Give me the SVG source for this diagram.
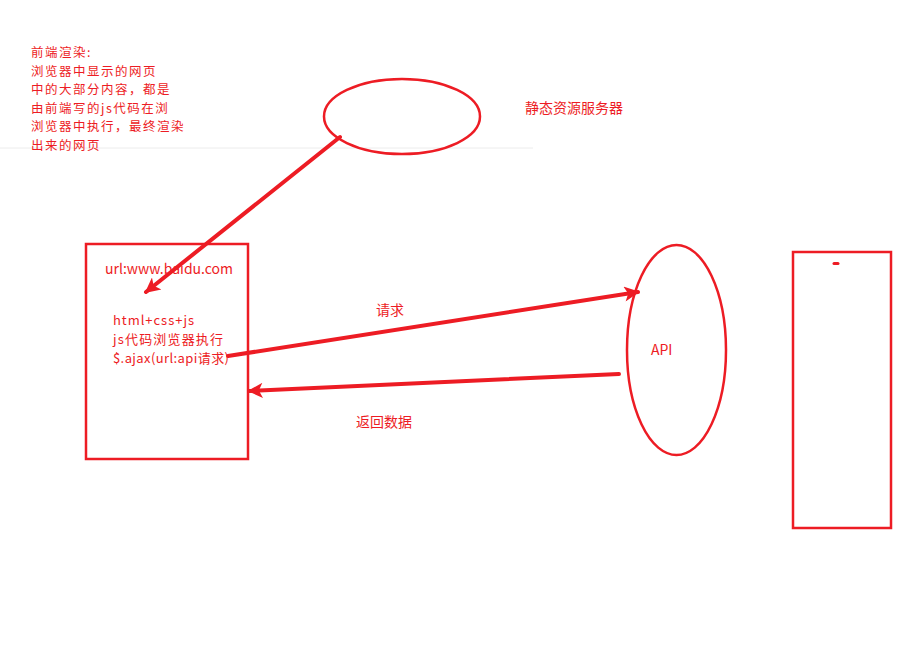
<svg xmlns="http://www.w3.org/2000/svg" width="903" height="659" viewBox="0 0 903 659">
<defs>
<style>
.t{font-family:"Microsoft YaHei","Noto Sans CJK SC","Noto Sans",sans-serif;font-size:14px;fill:#ED1C24}
.n{font-size:12.5px;letter-spacing:1.5px}
.b{font-size:13px}
.s{fill:none;stroke:#ED1C24;stroke-width:2.5}
.c{fill:none;stroke:#ED1C24;stroke-width:4;stroke-linecap:round}
</style>
<marker id="ah" viewBox="0 0 10 10" refX="9" refY="5" markerWidth="4.5" markerHeight="3.8" orient="auto" markerUnits="strokeWidth">
<path d="M0,0 L10,5 L0,10 L2.5,5 Z" fill="#ED1C24"/>
</marker>
</defs>
<rect width="903" height="659" fill="#fff"/>
<line x1="0" y1="148" x2="533" y2="148" stroke="#ececec" stroke-width="1"/>
<g id="note">
<text class="t n" x="31" y="57">前端渲染:</text>
<text class="t n" x="31" y="75.5">浏览器中显示的网页</text>
<text class="t n" x="31" y="94">中的大部分内容，都是</text>
<text class="t n" x="31" y="112.5">由前端写的js代码在浏</text>
<text class="t n" x="31" y="131">浏览器中执行，最终渲染</text>
<text class="t n" x="31" y="149.5">出来的网页</text>
</g>
<g id="static-server">
<ellipse class="s" cx="402" cy="116.5" rx="78" ry="37.5"/>
<text class="t" x="525" y="113">静态资源服务器</text>
</g>
<g id="browser">
<rect class="s" x="86" y="244" width="162" height="215"/>
<text class="t" x="105" y="274">url:www.baidu.com</text>
<text class="t b" x="113" y="324.5" textLength="81" lengthAdjust="spacing">html+css+js</text>
<text class="t b" x="113" y="343.5" textLength="110" lengthAdjust="spacing">js代码浏览器执行</text>
<text class="t b" x="113" y="362.5" textLength="116" lengthAdjust="spacing">$.ajax(url:api请求)</text>
</g>
<g id="api">
<ellipse class="s" cx="676.5" cy="350" rx="49.5" ry="105"/>
<text class="t" x="651" y="355">API</text>
</g>
<g id="device">
<rect class="s" x="793" y="252" width="98" height="276"/>
<line x1="834" y1="263.5" x2="838" y2="263.5" stroke="#ED1C24" stroke-width="3" stroke-linecap="round"/>
</g>
<g id="connectors">
<line class="c" x1="340" y1="137" x2="146" y2="292" marker-end="url(#ah)"/>
<line class="c" x1="228" y1="356" x2="638" y2="292" marker-end="url(#ah)"/>
<text class="t" x="376" y="315">请求</text>
<line class="c" x1="619" y1="374" x2="249" y2="391" marker-end="url(#ah)"/>
<text class="t" x="356" y="427">返回数据</text>
</g>
</svg>
